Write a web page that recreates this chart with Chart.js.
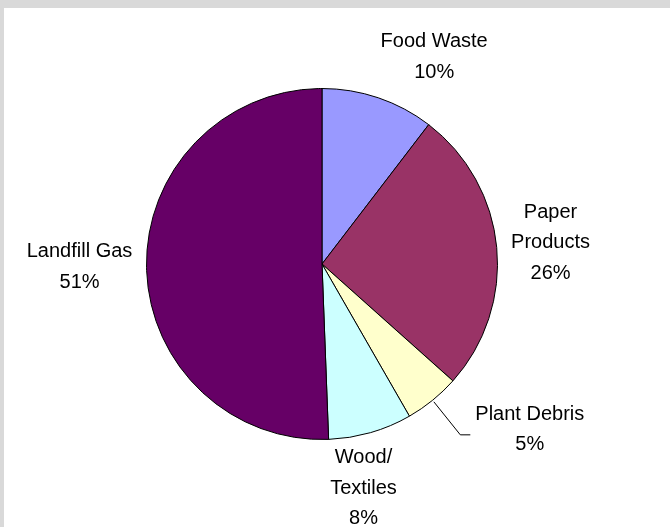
<!DOCTYPE html>
<html>
<head>
<meta charset="utf-8">
<script src="https://cdn.jsdelivr.net/npm/chart.js@4"></script>
<style>
  html, body { margin: 0; padding: 0; }
  body { width: 670px; height: 527px; background: #d9d9d9; overflow: hidden; }
  #wrap { position: absolute; left: 4px; top: 8px; width: 666px; height: 519px; background: #fff; }
  #pie { position: absolute; left: 0; top: 0; }
</style>
</head>
<body>
<div id="wrap"></div>
<canvas id="pie" width="670" height="527"></canvas>
<script>
"use strict";

// categories (each entry = lines of the label)
const categories = [["Food Waste"], ["Paper", "Products"], ["Plant Debris"], ["Wood/", "Textiles"], ["Landfill Gas"]];
// share of each slice, %
const shares = [10.4, 26.2, 5.1, 7.7, 50.6];
const sliceColors = ["#9999ff", "#993366", "#ffffcc", "#ccffff", "#660066"];

// labels outside the pie, placed from each arc's mid angle
const outsideLabels = {
  id: "outsideLabels",
  afterDatasetsDraw(chart, args, opts) {
    const ctx = chart.ctx;
    const meta = chart.getDatasetMeta(0);
    ctx.save();
    ctx.font = opts.font;
    ctx.fillStyle = "#000";
    ctx.textAlign = "center";
    ctx.textBaseline = "middle";
    meta.data.forEach(function (arc, i) {
      const p = arc.getProps(["x", "y", "startAngle", "endAngle", "outerRadius"], true);
      const mid = (p.startAngle + p.endAngle) / 2;
      const ux = Math.cos(mid), uy = Math.sin(mid);
      const lines = categories[i].concat([Math.round(shares[i]) + "%"]);
      const n = opts.nudge[i] || [0, 0];
      const cx = p.x + ux * (p.outerRadius + opts.gap) + n[0];
      const cy = p.y + uy * (p.outerRadius + opts.gap) + n[1];
      const top = cy - (lines.length - 1) * opts.lineHeight / 2;
      let w = 0;
      lines.forEach(function (t, k) {
        w = Math.max(w, ctx.measureText(t).width);
        ctx.fillText(t, cx, top + k * opts.lineHeight);
      });
      if (opts.leader.indexOf(i) >= 0) {
        const left = cx - w / 2;
        const ly = cy + 5.5;
        ctx.strokeStyle = "#000";
        ctx.lineWidth = 1;
        ctx.beginPath();
        ctx.moveTo(p.x + ux * (p.outerRadius + 2), p.y + uy * (p.outerRadius + 2));
        ctx.lineTo(left - 15, ly);
        ctx.lineTo(left - 5, ly);
        ctx.stroke();
      }
    });
    ctx.restore();
  }
};

const ctx = document.getElementById("pie");
const chart = new Chart(ctx, {
  type: "pie",
  data: {
    labels: categories.map(function (c) { return c.join(" "); }),
    datasets: [{
      data: shares,
      backgroundColor: sliceColors,
      borderColor: "#000",
      borderWidth: 1
    }]
  },
  options: {
    responsive: false,
    animation: false,
    layout: { padding: { left: 146, right: 172, top: 88, bottom: 87 } },
    plugins: {
      legend: { display: false },
      tooltip: { enabled: false },
      outsideLabels: {
        font: "20px 'Liberation Sans', Arial, sans-serif",
        lineHeight: 30.5,
        gap: 40,
        nudge: [[43, -3], [14, -1], [72, -2], [-18, 17], [-27, -1]],
        leader: [2]
      }
    }
  },
  plugins: [outsideLabels]
});
</script>
</body>
</html>
